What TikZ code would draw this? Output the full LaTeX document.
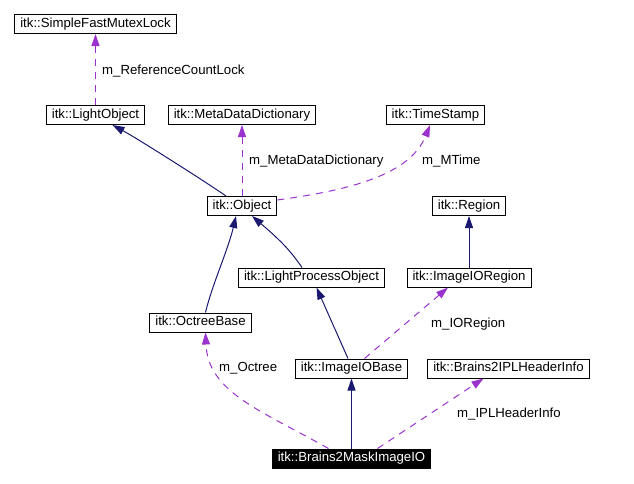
\documentclass[tikz,border=0pt]{standalone}
\usepackage{fontspec}
\setmainfont{Liberation Sans}
\usetikzlibrary{arrows.meta}
\definecolor{inhcol}{RGB}{25,25,112}
\definecolor{memcol}{RGB}{154,50,205}

\begin{document}
\begin{tikzpicture}[x=1pt,y=-1pt,
  cls/.style={draw, line width=1pt, inner xsep=5.5pt, inner ysep=0pt, minimum height=19pt, text height=9.6pt, text depth=2.8pt, font=\fontsize{13.2}{15}\selectfont},
  focus/.style={cls, fill=black, text=white},
  lbl/.style={anchor=west, inner sep=0pt, text height=9.6pt, text depth=2.8pt, font=\fontsize{13.2}{15}\selectfont},
  inh/.style={draw=inhcol, line width=1pt, -{Triangle[length=12pt,width=8pt]}},
  memb/.style={draw=memcol, line width=1pt, dash pattern=on 7pt off 6pt, -{Triangle[length=12pt,width=8pt]}}]
\useasboundingbox (0,0) rectangle (634,483);

% classes
\node [cls] (sfml) at (95.5,24) {itk::SimpleFastMutexLock};
\node [cls] (lightobj) at (95.5,115) {itk::LightObject};
\node [cls] (mdd) at (242,115) {itk::MetaDataDictionary};
\node [cls] (tstamp) at (435.5,115) {itk::TimeStamp};
\node [cls] (object) at (242,206) {itk::Object};
\node [cls] (region) at (469,206) {itk::Region};
\node [cls] (lpo) at (311.5,277.5) {itk::LightProcessObject};
\node [cls] (ioregion) at (469,277.5) {itk::ImageIORegion};
\node [cls] (octree) at (200.5,322.5) {itk::OctreeBase};
\node [cls] (iobase) at (351.5,368.5) {itk::ImageIOBase};
\node [cls] (iplinfo) at (508.5,368.5) {itk::Brains2IPLHeaderInfo};
\node [focus] (mask) at (351.5,458.5) {itk::Brains2MaskImageIO};

% inheritance
\draw [inh] ([xshift=-16pt]object.north) .. controls (212,186) and (140,140) .. ([xshift=17pt]lightobj.south);
\draw [inh] ([xshift=5pt]octree.north) .. controls (212,285) and (228,250) .. ([xshift=-6pt]object.south);
\draw [inh] ([xshift=-9.5pt]lpo.north) .. controls (290,250) and (280,240) .. ([xshift=10pt]object.south);
\draw [inh] (ioregion.north) -- (region.south);
\draw [inh] ([xshift=-3.5pt]iobase.north) -- ([xshift=5pt]lpo.south);
\draw [inh] (mask.north) -- (iobase.south);

% members
\draw [memb] (lightobj.north) -- (sfml.south);
\node [lbl] (lblrefcount) at (102,71) {m\_ReferenceCountLock};

\draw [memb] (object.north) -- (mdd.south);
\node [lbl] (lblmdd) at (249,161) {m\_MetaDataDictionary};

\draw [memb] ([yshift=6pt]object.east) .. controls (350,190) and (410,175) .. ([xshift=-5.5pt]tstamp.south);
\node [lbl] (lblmtime) at (422,161) {m\_MTime};

\draw [memb] ([xshift=13pt]iobase.north) -- ([xshift=-21pt]ioregion.south);
\node [lbl] (lblioregion) at (431,324) {m\_IORegion};

\draw [memb] ([xshift=-23pt]mask.north) .. controls (260,410) and (208,392) .. ([xshift=5pt]octree.south);
\node [lbl] (lbloctree) at (219,368) {m\_Octree};

\draw [memb] ([xshift=26pt]mask.north) -- ([xshift=-25pt]iplinfo.south);
\node [lbl] (lblipl) at (457,414) {m\_IPLHeaderInfo};

\end{tikzpicture}
\end{document}
